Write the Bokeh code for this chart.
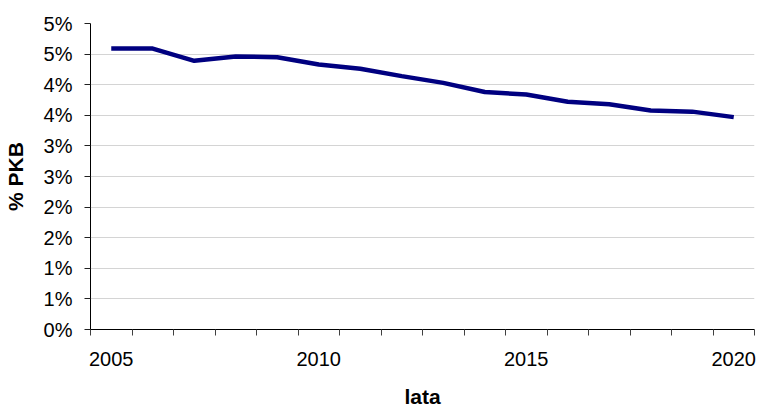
from bokeh.plotting import figure
from bokeh.models import FixedTicker, Range1d
from bokeh.embed import file_html
from bokeh.resources import INLINE

# Data
years = [2005, 2006, 2007, 2008, 2009, 2010, 2011, 2012,
         2013, 2014, 2015, 2016, 2017, 2018, 2019, 2020]
pkb_share = [4.59, 4.59, 4.39, 4.46, 4.45, 4.33, 4.26, 4.14,
             4.03, 3.88, 3.84, 3.72, 3.68, 3.58, 3.56, 3.47]

x_label_years = [2005, 2010, 2015, 2020]
y_ticks = [0, 0.5, 1.0, 1.5, 2.0, 2.5, 3.0, 3.5, 4.0, 4.5, 5.0]
y_tick_labels = ["0%", "1%", "1%", "2%", "2%", "3%", "3%", "4%", "4%", "5%", "5%"]

FONT = "Liberation Sans"

p = figure(
    output_backend="svg", toolbar_location=None,
    width=750, height=398,
    frame_width=664, frame_height=306,
    min_border_left=84, min_border_right=2,
    min_border_top=23, min_border_bottom=69,
    x_range=Range1d(years[0] - 0.5, years[-1] + 0.5),
    y_range=Range1d(y_ticks[0], y_ticks[-1]),
    x_axis_label="lata", y_axis_label="% PKB",
)
p.outline_line_color = None
p.background_fill_color = "white"
p.border_fill_color = "white"

p.line(years, pkb_share, line_color="#000080", line_width=4.5)

# X axis
p.xaxis.ticker = FixedTicker(ticks=x_label_years,
                             minor_ticks=[y - 0.5 for y in years] + [years[-1] + 0.5])
p.xaxis.major_tick_out = 0
p.xaxis.major_tick_in = 0
p.xaxis.minor_tick_out = 6
p.xaxis.minor_tick_in = 0
p.xaxis.minor_tick_line_color = "#404040"
p.xaxis.major_label_standoff = 16
p.xaxis.axis_label_standoff = 16

# Y axis
p.yaxis.ticker = FixedTicker(ticks=y_ticks, minor_ticks=[])
p.yaxis.major_label_overrides = {t: l for t, l in zip(y_ticks, y_tick_labels)}
p.yaxis.major_tick_out = 6
p.yaxis.major_tick_in = 0
p.yaxis.major_tick_line_color = "#202020"
p.yaxis.major_label_standoff = 12
p.yaxis.axis_label_standoff = 14

for ax in (p.xaxis, p.yaxis):
    ax.axis_line_color = "black"
    ax.axis_line_width = 1
    ax.major_label_text_font = FONT
    ax.major_label_text_font_size = "20px"
    ax.major_label_text_color = "black"
    ax.axis_label_text_font = FONT
    ax.axis_label_text_font_size = "21px"
    ax.axis_label_text_font_style = "bold"
    ax.axis_label_text_color = "black"

p.xgrid.grid_line_color = None
p.ygrid.ticker = FixedTicker(ticks=y_ticks)
p.ygrid.grid_line_color = "#d4d4d4"
p.ygrid.grid_line_width = 1

open("out.html", "w").write(file_html(p, INLINE))
